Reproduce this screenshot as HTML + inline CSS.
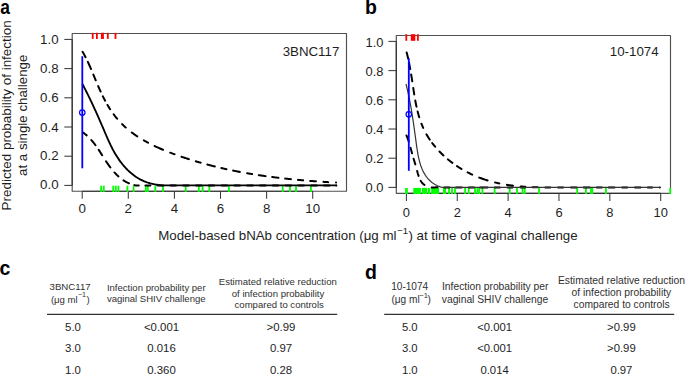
<!DOCTYPE html><html><head><meta charset="utf-8"><style>html,body{margin:0;padding:0;background:#fff;}svg{display:block;}text{font-family:"Liberation Sans",sans-serif;fill:#1e1e1e;} text.b{fill:#000;} text.h{fill:#303030;}</style></head><body>
<svg width="685" height="374" viewBox="0 0 685 374">
<rect width="685" height="374" fill="#fff"/>
<rect x="72.2" y="33.5" width="274.3" height="157.7" fill="none" stroke="#505050" stroke-width="1.15" stroke-linejoin="round"/>
<line x1="72.2" y1="185.4" x2="72.2" y2="39.400000000000006" stroke="#303030" stroke-width="1.15"/>
<line x1="64.3" y1="185.40" x2="72.2" y2="185.40" stroke="#383838" stroke-width="1.05"/>
<text x="58.6" y="188.90" font-size="13.3" text-anchor="end">0.0</text>
<line x1="64.3" y1="156.20" x2="72.2" y2="156.20" stroke="#383838" stroke-width="1.05"/>
<text x="58.6" y="160.20" font-size="13.3" text-anchor="end">0.2</text>
<line x1="64.3" y1="127.00" x2="72.2" y2="127.00" stroke="#383838" stroke-width="1.05"/>
<text x="58.6" y="131.50" font-size="13.3" text-anchor="end">0.4</text>
<line x1="64.3" y1="97.80" x2="72.2" y2="97.80" stroke="#383838" stroke-width="1.05"/>
<text x="58.6" y="102.40" font-size="13.3" text-anchor="end">0.6</text>
<line x1="64.3" y1="68.60" x2="72.2" y2="68.60" stroke="#383838" stroke-width="1.05"/>
<text x="58.6" y="73.30" font-size="13.3" text-anchor="end">0.8</text>
<line x1="64.3" y1="39.40" x2="72.2" y2="39.40" stroke="#383838" stroke-width="1.05"/>
<text x="58.6" y="44.10" font-size="13.3" text-anchor="end">1.0</text>
<line x1="82.2" y1="191.2" x2="312.7" y2="191.2" stroke="#303030" stroke-width="1.15"/>
<line x1="82.20" y1="191.2" x2="82.20" y2="198.79999999999998" stroke="#383838" stroke-width="1.05"/>
<text x="82.20" y="213.3" font-size="13.3" text-anchor="middle">0</text>
<line x1="128.30" y1="191.2" x2="128.30" y2="198.79999999999998" stroke="#383838" stroke-width="1.05"/>
<text x="128.30" y="213.3" font-size="13.3" text-anchor="middle">2</text>
<line x1="174.40" y1="191.2" x2="174.40" y2="198.79999999999998" stroke="#383838" stroke-width="1.05"/>
<text x="174.40" y="213.3" font-size="13.3" text-anchor="middle">4</text>
<line x1="220.50" y1="191.2" x2="220.50" y2="198.79999999999998" stroke="#383838" stroke-width="1.05"/>
<text x="220.50" y="213.3" font-size="13.3" text-anchor="middle">6</text>
<line x1="266.60" y1="191.2" x2="266.60" y2="198.79999999999998" stroke="#383838" stroke-width="1.05"/>
<text x="266.60" y="213.3" font-size="13.3" text-anchor="middle">8</text>
<line x1="312.70" y1="191.2" x2="312.70" y2="198.79999999999998" stroke="#383838" stroke-width="1.05"/>
<text x="312.70" y="213.3" font-size="13.3" text-anchor="middle">10</text>
<line x1="101.1" y1="185.7" x2="101.1" y2="192.0" stroke="#00ff00" stroke-width="1.8"/>
<line x1="103.8" y1="185.7" x2="103.8" y2="192.0" stroke="#00ff00" stroke-width="1.8"/>
<line x1="113.2" y1="185.7" x2="113.2" y2="192.0" stroke="#00ff00" stroke-width="1.8"/>
<line x1="115.8" y1="185.7" x2="115.8" y2="192.0" stroke="#00ff00" stroke-width="1.8"/>
<line x1="118.4" y1="185.7" x2="118.4" y2="192.0" stroke="#00ff00" stroke-width="1.8"/>
<line x1="127.4" y1="185.7" x2="127.4" y2="192.0" stroke="#00ff00" stroke-width="1.8"/>
<line x1="133.6" y1="185.7" x2="133.6" y2="192.0" stroke="#00ff00" stroke-width="1.8"/>
<line x1="145.8" y1="185.7" x2="145.8" y2="192.0" stroke="#00ff00" stroke-width="1.8"/>
<line x1="147.8" y1="185.7" x2="147.8" y2="192.0" stroke="#00ff00" stroke-width="1.8"/>
<line x1="155.3" y1="185.7" x2="155.3" y2="192.0" stroke="#00ff00" stroke-width="1.8"/>
<line x1="163" y1="185.7" x2="163" y2="192.0" stroke="#00ff00" stroke-width="1.8"/>
<line x1="185.7" y1="185.7" x2="185.7" y2="192.0" stroke="#00ff00" stroke-width="1.8"/>
<line x1="198.8" y1="185.7" x2="198.8" y2="192.0" stroke="#00ff00" stroke-width="1.8"/>
<line x1="202.6" y1="185.7" x2="202.6" y2="192.0" stroke="#00ff00" stroke-width="1.8"/>
<line x1="209.3" y1="185.7" x2="209.3" y2="192.0" stroke="#00ff00" stroke-width="1.8"/>
<line x1="228.9" y1="185.7" x2="228.9" y2="192.0" stroke="#00ff00" stroke-width="1.8"/>
<line x1="282.7" y1="185.7" x2="282.7" y2="192.0" stroke="#00ff00" stroke-width="1.8"/>
<line x1="290" y1="185.7" x2="290" y2="192.0" stroke="#00ff00" stroke-width="1.8"/>
<line x1="296" y1="185.7" x2="296" y2="192.0" stroke="#00ff00" stroke-width="1.8"/>
<line x1="310.9" y1="185.7" x2="310.9" y2="192.0" stroke="#00ff00" stroke-width="1.8"/>
<line x1="92.7" y1="32.8" x2="92.7" y2="38.9" stroke="#ff0000" stroke-width="1.8"/>
<line x1="96.9" y1="32.8" x2="96.9" y2="38.9" stroke="#ff0000" stroke-width="1.8"/>
<line x1="101.8" y1="32.8" x2="101.8" y2="38.9" stroke="#ff0000" stroke-width="1.8"/>
<line x1="103.0" y1="32.8" x2="103.0" y2="38.9" stroke="#ff0000" stroke-width="1.8"/>
<line x1="107.8" y1="32.8" x2="107.8" y2="38.9" stroke="#ff0000" stroke-width="1.8"/>
<line x1="115.5" y1="32.8" x2="115.5" y2="38.9" stroke="#ff0000" stroke-width="1.8"/>
<path d="M82.59,51.80 L82.93,52.39 L83.27,52.99 L83.61,53.58 L83.94,54.18 L84.27,54.78 L84.59,55.38 L84.91,55.99 L85.23,56.60 L85.55,57.20 M87.83,61.86 L88.10,62.45 L88.38,63.04 L88.65,63.63 L88.92,64.22 L89.18,64.81 L89.45,65.40 L89.71,66.00 L89.97,66.59 L90.23,67.19 L90.49,67.78 L90.75,68.38 L91.01,68.98 M93.38,74.63 L93.64,75.26 L93.90,75.89 L94.16,76.51 L94.42,77.14 L94.68,77.77 L94.94,78.40 L95.20,79.02 L95.46,79.65 L95.72,80.28 M98.19,86.16 L98.45,86.76 L98.71,87.36 L98.98,87.96 L99.24,88.56 L99.50,89.16 L99.77,89.76 L100.04,90.35 L100.31,90.95 L100.58,91.54 M102.84,96.29 L103.12,96.84 L103.40,97.40 L103.68,97.96 L103.96,98.51 L104.25,99.06 L104.54,99.62 L104.83,100.17 L105.12,100.72 M107.50,104.96 L107.82,105.51 L108.15,106.05 L108.47,106.59 L108.80,107.13 L109.14,107.67 L109.47,108.21 L109.81,108.74 L110.15,109.27 M113.69,114.40 L114.10,114.94 L114.51,115.48 L114.92,116.02 L115.34,116.56 L115.76,117.09 L116.19,117.62 L116.62,118.14 L117.05,118.67 M122.11,124.15 L122.55,124.59 L123.00,125.02 L123.45,125.45 L123.90,125.88 L124.36,126.31 L124.82,126.73 L125.28,127.15 L125.75,127.56 M131.80,132.49 L132.33,132.89 L132.87,133.29 L133.41,133.68 L133.96,134.07 L134.50,134.46 L135.05,134.84 L135.60,135.22 L136.15,135.60 L136.71,135.97 L137.26,136.34 M143.86,140.41 L144.45,140.75 L145.04,141.08 L145.63,141.41 L146.23,141.74 L146.82,142.06 L147.42,142.39 L148.02,142.71 M154.60,146.02 L155.19,146.30 L155.79,146.58 L156.38,146.86 L156.98,147.13 L157.57,147.41 L158.17,147.68 L158.77,147.94 L159.37,148.21 L159.97,148.47 L160.57,148.74 L161.17,149.00 L161.77,149.26 L162.37,149.51 L162.98,149.77 M170.23,152.68 L170.85,152.91 L171.47,153.14 L172.08,153.38 L172.70,153.61 L173.32,153.84 L173.94,154.07 L174.56,154.29 M181.45,156.72 L182.06,156.93 L182.68,157.14 L183.29,157.34 L183.91,157.55 L184.52,157.75 L185.14,157.96 L185.76,158.16 L186.37,158.36 L186.99,158.56 L187.61,158.76 L188.23,158.96 L188.85,159.16 M195.86,161.32 L196.45,161.50 L197.05,161.68 L197.65,161.85 L198.25,162.03 L198.84,162.20 L199.44,162.37 L200.04,162.54 L200.64,162.72 M207.37,164.57 L207.99,164.73 L208.61,164.90 L209.23,165.06 L209.85,165.22 L210.47,165.38 L211.09,165.54 L211.72,165.70 L212.34,165.86 L212.96,166.02 L213.58,166.18 L214.21,166.33 L214.83,166.49 M221.37,168.05 L222.00,168.20 L222.64,168.34 L223.27,168.48 L223.90,168.63 L224.53,168.77 L225.16,168.91 L225.79,169.05 L226.42,169.19 M233.08,170.59 L233.76,170.73 L234.45,170.87 L235.13,171.00 L235.81,171.14 L236.50,171.28 L237.18,171.41 L237.86,171.54 L238.55,171.67 L239.23,171.80 L239.92,171.93 M247.09,173.23 L247.71,173.34 L248.34,173.45 L248.97,173.56 L249.60,173.67 L250.23,173.77 L250.86,173.88 L251.48,173.98 L252.11,174.08 M258.79,175.14 L259.47,175.24 L260.15,175.34 L260.83,175.45 L261.52,175.55 L262.20,175.65 L262.88,175.74 L263.56,175.84 L264.24,175.94 L264.93,176.04 L265.61,176.13 M272.19,177.02 L272.88,177.10 L273.57,177.19 L274.26,177.28 L274.95,177.37 L275.64,177.45 L276.33,177.54 L277.03,177.62 L277.72,177.70 L278.41,177.79 M285.19,178.56 L285.83,178.63 L286.46,178.70 L287.10,178.77 L287.73,178.83 L288.37,178.90 L289.00,178.97 L289.64,179.03 L290.27,179.10 L290.91,179.16 M298.00,179.85 L298.63,179.91 L299.27,179.97 L299.91,180.03 L300.55,180.08 L301.19,180.14 L301.83,180.20 L302.47,180.25 L303.10,180.31 M310.20,180.90 L310.83,180.95 L311.46,181.00 L312.10,181.04 L312.73,181.09 L313.37,181.14 L314.00,181.19 L314.63,181.24 L315.27,181.28 L315.90,181.33 M323.50,181.86 L324.17,181.91 L324.84,181.95 L325.51,181.99 L326.19,182.04 L326.86,182.08 L327.53,182.12 L328.20,182.17 M336.00,182.61 L336.10,182.61" fill="none" stroke="#000" stroke-width="2" stroke-linecap="round"/>
<path d="M83.21,132.69 L83.72,133.05 L84.22,133.42 L84.72,133.80 L85.21,134.18 L85.70,134.58 L86.18,134.98 L86.65,135.38 M91.37,140.09 L91.81,140.59 L92.24,141.10 L92.66,141.60 L93.08,142.12 L93.50,142.63 L93.91,143.15 L94.32,143.68 L94.72,144.21 L95.12,144.74 L95.51,145.27 M98.66,149.79 L99.01,150.33 L99.37,150.87 L99.72,151.41 L100.07,151.96 L100.42,152.50 L100.77,153.04 L101.12,153.59 L101.47,154.14 L101.82,154.68 L102.16,155.23 M106.05,161.28 L106.43,161.86 L106.81,162.43 L107.20,163.00 L107.58,163.57 L107.97,164.14 L108.37,164.71 L108.77,165.27 L109.17,165.83 L109.57,166.39 L109.98,166.94 L110.39,167.50 M114.47,172.44 L114.89,172.90 L115.32,173.36 L115.75,173.82 L116.19,174.26 L116.63,174.71 L117.08,175.15 L117.53,175.58 L117.99,176.01 L118.45,176.43 M123.53,180.36 L124.10,180.73 L124.67,181.09 L125.26,181.44 L125.84,181.77 L126.44,182.10 L127.04,182.41 L127.65,182.72 L128.26,183.01 L128.88,183.28 M134.37,185.14 L134.99,185.29 L135.61,185.40 L136.25,185.40 L136.89,185.40 L137.53,185.40 L138.16,185.40 L138.80,185.40 M145.40,185.40 L146.03,185.40 L146.65,185.40 L147.28,185.40 L147.90,185.40 L148.53,185.40 L149.15,185.40 L149.78,185.39 L150.40,185.40 M157.60,185.40 L158.26,185.40 L158.91,185.40 L159.57,185.40 L160.22,185.40 L160.88,185.40 L161.53,185.40 L162.19,185.40 L162.84,185.40 L163.50,185.40 M170.40,185.40 L171.09,185.40 L171.78,185.40 L172.46,185.40 L173.15,185.40 L173.84,185.40 L174.53,185.40 L175.21,185.40 L175.90,185.40 M183.20,185.40 L183.89,185.40 L184.58,185.40 L185.26,185.40 L185.95,185.40 L186.64,185.40 L187.33,185.40 L188.01,185.40 L188.70,185.40 M196.00,185.40 L196.69,185.40 L197.38,185.40 L198.06,185.40 L198.75,185.40 L199.44,185.40 L200.13,185.40 L200.81,185.40 L201.50,185.40 M208.80,185.40 L209.49,185.40 L210.18,185.40 L210.86,185.40 L211.55,185.40 L212.24,185.40 L212.93,185.40 L213.61,185.40 L214.30,185.40 M221.60,185.40 L222.29,185.40 L222.98,185.40 L223.66,185.40 L224.35,185.40 L225.04,185.40 L225.73,185.40 L226.41,185.40 L227.10,185.40 M234.40,185.40 L235.09,185.40 L235.78,185.40 L236.46,185.40 L237.15,185.40 L237.84,185.40 L238.53,185.40 L239.21,185.40 L239.90,185.40 M247.20,185.40 L247.89,185.40 L248.58,185.40 L249.26,185.40 L249.95,185.40 L250.64,185.40 L251.33,185.40 L252.01,185.40 L252.70,185.40 M260.00,185.40 L260.69,185.40 L261.38,185.40 L262.06,185.40 L262.75,185.40 L263.44,185.40 L264.13,185.40 L264.81,185.40 L265.50,185.40 M272.80,185.40 L273.49,185.40 L274.18,185.40 L274.86,185.40 L275.55,185.40 L276.24,185.40 L276.93,185.40 L277.61,185.40 L278.30,185.40 M285.60,185.40 L286.29,185.40 L286.98,185.40 L287.66,185.40 L288.35,185.40 L289.04,185.40 L289.73,185.40 L290.41,185.40 L291.10,185.40 M298.40,185.40 L299.09,185.40 L299.78,185.40 L300.46,185.40 L301.15,185.40 L301.84,185.40 L302.53,185.40 L303.21,185.40 L303.90,185.40 M311.20,185.40 L311.89,185.40 L312.58,185.40 L313.26,185.40 L313.95,185.40 L314.64,185.40 L315.33,185.40 L316.01,185.40 L316.70,185.40 M324.00,185.40 L324.69,185.40 L325.38,185.40 L326.06,185.40 L326.75,185.40 L327.44,185.40 L328.13,185.40 L328.81,185.40 L329.50,185.40 M336.25,185.40 L336.35,185.40" fill="none" stroke="#000" stroke-width="2" stroke-linecap="round"/>
<path d="M82.40,84.00 L82.93,85.03 L83.47,86.05 L84.01,87.07 L84.55,88.10 L85.08,89.14 L85.62,90.18 L86.15,91.22 L86.68,92.28 L87.21,93.33 L87.74,94.39 L88.27,95.46 L88.79,96.53 L89.31,97.60 L89.84,98.68 L90.36,99.76 L90.87,100.84 L91.39,101.93 L91.91,103.02 L92.42,104.12 L92.93,105.21 L93.44,106.31 L93.95,107.42 L94.46,108.52 L94.97,109.63 L95.47,110.74 L95.97,111.85 L96.47,112.96 L96.97,114.07 L97.47,115.19 L97.97,116.30 L98.46,117.42 L98.95,118.53 L99.44,119.65 L99.93,120.77 L100.42,121.89 L100.91,123.01 L101.39,124.12 L101.87,125.24 L102.36,126.36 L102.83,127.47 L103.31,128.58 L103.79,129.70 L104.26,130.81 L104.74,131.92 L105.21,133.03 L105.68,134.13 L106.15,135.24 L106.63,136.34 L107.11,137.44 L107.59,138.53 L108.07,139.63 L108.56,140.72 L109.06,141.81 L109.56,142.89 L110.07,143.97 L110.58,145.05 L111.10,146.12 L111.63,147.19 L112.17,148.25 L112.72,149.31 L113.29,150.36 L113.86,151.41 L114.44,152.46 L115.04,153.50 L115.65,154.53 L116.28,155.56 L116.92,156.58 L117.58,157.59 L118.25,158.60 L118.94,159.61 L119.64,160.60 L120.36,161.58 L121.10,162.56 L121.85,163.52 L122.61,164.47 L123.39,165.41 L124.19,166.33 L125.00,167.23 L125.82,168.13 L126.65,169.00 L127.50,169.86 L128.37,170.69 L129.24,171.51 L130.13,172.31 L131.03,173.09 L131.95,173.84 L132.87,174.58 L133.81,175.29 L134.76,175.98 L135.72,176.65 L136.69,177.29 L137.68,177.91 L138.67,178.51 L139.68,179.08 L140.69,179.62 L141.72,180.13 L142.76,180.62 L143.80,181.09 L144.86,181.52 L145.92,181.93 L147.00,182.32 L148.08,182.68 L149.17,183.01 L150.28,183.33 L151.38,183.62 L152.50,183.89 L153.63,184.14 L154.76,184.37 L155.90,184.58 L157.05,184.77 L158.20,184.94 L159.36,185.09 L160.53,185.23 L161.70,185.36 L162.88,185.40 L164.07,185.40 L165.26,185.40 L166.46,185.40 L167.66,185.40 L168.87,185.40 L170.08,185.40 L171.30,185.40 L172.52,185.40 L173.75,185.40 L174.98,185.40 L176.21,185.40 L177.45,185.40 L178.69,185.40 L179.93,185.40 L181.18,185.40 L182.43,185.40 L183.68,185.40 L184.94,185.40 L186.19,185.40 L187.45,185.40 L188.71,185.40 L189.97,185.38 L190.03,185.37 L336.80,185.40" fill="none" stroke="#000" stroke-width="1.85"/>
<line x1="82.3" y1="56.2" x2="82.3" y2="168.3" stroke="#0000ff" stroke-width="1.8"/>
<circle cx="82.3" cy="112.6" r="2.75" fill="none" stroke="#0000ff" stroke-width="1.2"/>
<text x="339.3" y="56" font-size="13.3" text-anchor="end">3BNC117</text>
<rect x="396.3" y="35.5" width="274.2" height="157.8" fill="none" stroke="#505050" stroke-width="1.15" stroke-linejoin="round"/>
<line x1="396.3" y1="187.4" x2="396.3" y2="41.400000000000006" stroke="#303030" stroke-width="1.15"/>
<line x1="388.40000000000003" y1="187.40" x2="396.3" y2="187.40" stroke="#383838" stroke-width="1.05"/>
<text x="383.4" y="192.10" font-size="12.9" text-anchor="end">0.0</text>
<line x1="388.40000000000003" y1="158.20" x2="396.3" y2="158.20" stroke="#383838" stroke-width="1.05"/>
<text x="383.4" y="162.90" font-size="12.9" text-anchor="end">0.2</text>
<line x1="388.40000000000003" y1="129.00" x2="396.3" y2="129.00" stroke="#383838" stroke-width="1.05"/>
<text x="383.4" y="133.70" font-size="12.9" text-anchor="end">0.4</text>
<line x1="388.40000000000003" y1="99.80" x2="396.3" y2="99.80" stroke="#383838" stroke-width="1.05"/>
<text x="383.4" y="104.80" font-size="12.9" text-anchor="end">0.6</text>
<line x1="388.40000000000003" y1="70.60" x2="396.3" y2="70.60" stroke="#383838" stroke-width="1.05"/>
<text x="383.4" y="76.20" font-size="12.9" text-anchor="end">0.8</text>
<line x1="388.40000000000003" y1="41.40" x2="396.3" y2="41.40" stroke="#383838" stroke-width="1.05"/>
<text x="383.4" y="46.90" font-size="12.9" text-anchor="end">1.0</text>
<line x1="406.4" y1="193.3" x2="660.7" y2="193.3" stroke="#303030" stroke-width="1.15"/>
<line x1="406.40" y1="193.3" x2="406.40" y2="200.9" stroke="#383838" stroke-width="1.05"/>
<text x="406.40" y="216.9" font-size="12.9" text-anchor="middle">0</text>
<line x1="457.26" y1="193.3" x2="457.26" y2="200.9" stroke="#383838" stroke-width="1.05"/>
<text x="457.26" y="216.9" font-size="12.9" text-anchor="middle">2</text>
<line x1="508.12" y1="193.3" x2="508.12" y2="200.9" stroke="#383838" stroke-width="1.05"/>
<text x="508.12" y="216.9" font-size="12.9" text-anchor="middle">4</text>
<line x1="558.98" y1="193.3" x2="558.98" y2="200.9" stroke="#383838" stroke-width="1.05"/>
<text x="558.98" y="216.9" font-size="12.9" text-anchor="middle">6</text>
<line x1="609.84" y1="193.3" x2="609.84" y2="200.9" stroke="#383838" stroke-width="1.05"/>
<text x="609.84" y="216.9" font-size="12.9" text-anchor="middle">8</text>
<line x1="660.70" y1="193.3" x2="660.70" y2="200.9" stroke="#383838" stroke-width="1.05"/>
<text x="660.70" y="216.9" font-size="12.9" text-anchor="middle">10</text>
<line x1="406.0" y1="187.9" x2="406.0" y2="194.0" stroke="#00ff00" stroke-width="1.8"/>
<line x1="406.9" y1="187.9" x2="406.9" y2="194.0" stroke="#00ff00" stroke-width="1.8"/>
<rect x="413.3" y="187.9" width="7.60" height="6.10" fill="#00ff00"/>
<rect x="421.9" y="187.9" width="5.10" height="6.10" fill="#00ff00"/>
<rect x="427.7" y="187.9" width="2.50" height="6.10" fill="#00ff00"/>
<rect x="431.2" y="187.9" width="7.90" height="6.10" fill="#00ff00"/>
<rect x="443" y="187.9" width="3.10" height="6.10" fill="#00ff00"/>
<line x1="449" y1="187.9" x2="449" y2="194.0" stroke="#00ff00" stroke-width="1.8"/>
<line x1="452" y1="187.9" x2="452" y2="194.0" stroke="#00ff00" stroke-width="1.8"/>
<line x1="455" y1="187.9" x2="455" y2="194.0" stroke="#00ff00" stroke-width="1.8"/>
<line x1="465.1" y1="187.9" x2="465.1" y2="194.0" stroke="#00ff00" stroke-width="1.8"/>
<line x1="468.7" y1="187.9" x2="468.7" y2="194.0" stroke="#00ff00" stroke-width="1.8"/>
<line x1="475" y1="187.9" x2="475" y2="194.0" stroke="#00ff00" stroke-width="1.8"/>
<line x1="477.5" y1="187.9" x2="477.5" y2="194.0" stroke="#00ff00" stroke-width="1.8"/>
<line x1="479.2" y1="187.9" x2="479.2" y2="194.0" stroke="#00ff00" stroke-width="1.8"/>
<line x1="482.4" y1="187.9" x2="482.4" y2="194.0" stroke="#00ff00" stroke-width="1.8"/>
<line x1="494.6" y1="187.9" x2="494.6" y2="194.0" stroke="#00ff00" stroke-width="1.8"/>
<line x1="509.7" y1="187.9" x2="509.7" y2="194.0" stroke="#00ff00" stroke-width="1.8"/>
<line x1="517" y1="187.9" x2="517" y2="194.0" stroke="#00ff00" stroke-width="1.8"/>
<line x1="522.5" y1="187.9" x2="522.5" y2="194.0" stroke="#00ff00" stroke-width="1.8"/>
<line x1="524.7" y1="187.9" x2="524.7" y2="194.0" stroke="#00ff00" stroke-width="1.8"/>
<line x1="539" y1="187.9" x2="539" y2="194.0" stroke="#00ff00" stroke-width="1.8"/>
<line x1="577.2" y1="187.9" x2="577.2" y2="194.0" stroke="#00ff00" stroke-width="1.8"/>
<line x1="585.9" y1="187.9" x2="585.9" y2="194.0" stroke="#00ff00" stroke-width="1.8"/>
<line x1="591" y1="187.9" x2="591" y2="194.0" stroke="#00ff00" stroke-width="1.8"/>
<line x1="592.3" y1="187.9" x2="592.3" y2="194.0" stroke="#00ff00" stroke-width="1.8"/>
<line x1="605.9" y1="187.9" x2="605.9" y2="194.0" stroke="#00ff00" stroke-width="1.8"/>
<line x1="670.2" y1="187.9" x2="670.2" y2="194.0" stroke="#00ff00" stroke-width="1.8"/>
<line x1="406.3" y1="34.2" x2="406.3" y2="40.8" stroke="#ff0000" stroke-width="1.8"/>
<rect x="410.8" y="34.2" width="4.50" height="6.60" fill="#ff0000"/>
<line x1="417.9" y1="34.2" x2="417.9" y2="40.8" stroke="#ff0000" stroke-width="1.8"/>
<path d="M406.67,52.56 L406.84,53.17 L407.00,53.78 L407.16,54.40 L407.31,55.01 L407.47,55.62 L407.61,56.24 L407.76,56.85 L407.91,57.47 L408.05,58.08 L408.19,58.70 M409.00,62.56 L409.13,63.21 L409.26,63.86 L409.38,64.52 L409.51,65.17 L409.63,65.83 L409.75,66.48 L409.87,67.14 L409.99,67.80 L410.11,68.45 L410.23,69.11 M411.16,74.58 L411.28,75.25 L411.39,75.93 L411.50,76.61 L411.61,77.28 L411.72,77.96 L411.82,78.64 L411.93,79.31 L412.04,79.99 L412.14,80.67 L412.25,81.34 M413.25,87.96 L413.35,88.61 L413.44,89.25 L413.54,89.90 L413.64,90.54 L413.74,91.19 L413.84,91.83 L413.94,92.48 L414.04,93.12 L414.14,93.77 L414.24,94.41 M415.28,100.52 L415.40,101.20 L415.53,101.89 L415.66,102.57 L415.79,103.25 L415.92,103.93 L416.06,104.61 L416.20,105.29 L416.34,105.97 L416.49,106.65 M417.64,111.58 L417.80,112.21 L417.97,112.83 L418.13,113.45 L418.30,114.08 L418.47,114.70 L418.65,115.32 L418.83,115.94 L419.01,116.55 L419.20,117.17 M421.46,123.70 L421.69,124.30 L421.93,124.90 L422.17,125.49 L422.42,126.09 L422.67,126.68 L422.92,127.27 L423.18,127.86 M426.49,134.38 L426.83,134.97 L427.17,135.56 L427.52,136.14 L427.88,136.72 L428.24,137.29 L428.61,137.87 L428.98,138.44 L429.35,139.01 L429.73,139.57 M432.20,143.00 L432.61,143.54 L433.02,144.08 L433.44,144.61 L433.86,145.14 L434.29,145.66 L434.72,146.19 L435.15,146.70 M439.49,151.52 L439.97,152.03 L440.46,152.52 L440.96,153.02 L441.45,153.51 L441.95,154.00 L442.45,154.48 L442.96,154.97 L443.47,155.44 M447.97,159.40 L448.45,159.80 L448.93,160.20 L449.42,160.59 L449.91,160.98 L450.40,161.37 L450.90,161.75 L451.39,162.13 L451.89,162.51 L452.39,162.89 M457.03,166.15 L457.57,166.51 L458.12,166.86 L458.67,167.22 L459.22,167.57 L459.77,167.91 L460.33,168.25 L460.88,168.59 L461.44,168.93 M467.59,172.35 L468.16,172.65 L468.73,172.93 L469.30,173.22 L469.88,173.50 L470.45,173.78 L471.03,174.06 L471.61,174.33 L472.19,174.60 M479.23,177.58 L479.86,177.82 L480.50,178.06 L481.13,178.29 L481.77,178.52 L482.40,178.75 L483.04,178.97 L483.68,179.19 L484.32,179.41 L484.96,179.62 L485.61,179.83 L486.25,180.04 L486.90,180.24 L487.54,180.44 M495.07,182.48 L495.68,182.62 L496.28,182.76 L496.89,182.90 L497.50,183.04 L498.10,183.17 L498.71,183.30 L499.32,183.43 M506.89,184.81 L507.57,184.91 L508.24,185.02 L508.92,185.12 L509.60,185.21 L510.28,185.31 L510.96,185.40 L511.64,185.49 L512.33,185.58 L513.01,185.66 M520.70,186.46 L521.35,186.52 L522.01,186.57 L522.67,186.62 L523.33,186.67 L523.99,186.72 L524.64,186.77 L525.30,186.81 M532.50,187.19 L533.12,187.21 L533.75,187.24 L534.37,187.26 L535.00,187.28 L535.62,187.30 L536.25,187.32 L536.88,187.34 L537.50,187.35 M545.30,187.40 L545.92,187.40 L546.55,187.40 L547.17,187.40 L547.80,187.40 L548.42,187.40 L549.05,187.40 L549.67,187.40 L550.30,187.40 M558.10,187.40 L558.73,187.39 L559.35,187.38 L559.98,187.38 L560.60,187.40 L561.22,187.40 L561.85,187.40 L562.47,187.40 L563.10,187.40 M571.00,187.40 L571.67,187.40 L572.35,187.40 L573.02,187.40 L573.70,187.40 L574.38,187.40 L575.05,187.40 L575.72,187.40 L576.40,187.40 M583.70,187.40 L584.36,187.40 L585.01,187.40 L585.67,187.40 L586.32,187.40 L586.98,187.40 L587.63,187.40 L588.29,187.40 L588.94,187.40 L589.60,187.40 M596.80,187.40 L597.42,187.40 L598.05,187.40 L598.67,187.40 L599.30,187.40 L599.92,187.40 L600.55,187.40 L601.17,187.40 L601.80,187.40 M608.70,187.40 L609.34,187.40 L609.99,187.40 L610.63,187.40 L611.28,187.40 L611.92,187.40 L612.57,187.40 L613.21,187.40 L613.86,187.40 L614.50,187.40 M622.20,187.40 L622.83,187.40 L623.45,187.40 L624.08,187.40 L624.70,187.40 L625.33,187.40 L625.95,187.40 L626.58,187.40 L627.20,187.40 M635.00,187.40 L635.62,187.40 L636.24,187.40 L636.87,187.40 L637.49,187.40 L638.11,187.40 L638.73,187.40 L639.36,187.40 L639.98,187.40 L640.60,187.40 M647.80,187.40 L648.43,187.40 L649.06,187.40 L649.69,187.40 L650.31,187.40 L650.94,187.40 L651.57,187.40 L652.20,187.40 M659.70,187.40 L659.80,187.40" fill="none" stroke="#000" stroke-width="2" stroke-linecap="round"/>
<path d="M406.51,135.51 L406.75,136.09 L406.99,136.68 L407.22,137.27 L407.45,137.85 L407.67,138.44 L407.89,139.04 L408.10,139.63 L408.30,140.23 L408.50,140.83 L408.70,141.43 M410.56,147.84 L410.73,148.44 L410.89,149.05 L411.05,149.66 L411.21,150.27 L411.37,150.88 L411.54,151.49 L411.70,152.10 L411.87,152.70 L412.03,153.31 M413.59,158.67 L413.78,159.30 L413.97,159.93 L414.16,160.57 L414.36,161.20 L414.55,161.83 L414.74,162.47 L414.93,163.10 L415.13,163.73 L415.32,164.37 M417.15,170.92 L417.32,171.54 L417.49,172.17 L417.65,172.80 L417.83,173.42 L418.00,174.05 L418.19,174.67 L418.38,175.29 L418.57,175.91 M420.69,180.73 L421.02,181.26 L421.37,181.77 L421.74,182.28 L422.13,182.76 L422.54,183.23 L422.97,183.68 L423.42,184.11 L423.89,184.52 L424.38,184.90 M431.70,187.40 L432.36,187.40 L433.01,187.40 L433.67,187.40 L434.32,187.40 L434.98,187.40 L435.63,187.37 L436.29,187.35 L436.94,187.33 L437.60,187.31 M444.40,187.40 L445.02,187.40 L445.65,187.40 L446.27,187.40 L446.90,187.40 L447.52,187.40 L448.15,187.40 L448.77,187.40 L449.40,187.40 M456.20,187.40 L456.89,187.40 L457.57,187.40 L458.26,187.40 L458.95,187.40 L459.64,187.40 L460.32,187.40 L461.01,187.40 L461.70,187.40 M468.90,187.40 L469.52,187.40 L470.15,187.40 L470.77,187.40 L471.40,187.40 L472.02,187.40 L472.65,187.40 L473.27,187.40 L473.90,187.40 M480.30,187.40 L480.95,187.40 L481.61,187.40 L482.26,187.40 L482.92,187.40 L483.57,187.40 L484.23,187.40 L484.88,187.40 L485.54,187.40 L486.19,187.40 L486.85,187.40 L487.50,187.40 M494.80,187.40 L495.43,187.40 L496.05,187.40 L496.68,187.40 L497.30,187.40 L497.93,187.40 L498.55,187.40 L499.18,187.40 L499.80,187.40 M507.50,187.40 L508.12,187.40 L508.75,187.40 L509.38,187.40 L510.00,187.40 L510.62,187.40 L511.25,187.40 L511.88,187.40 L512.50,187.40 M520.60,187.40 L521.26,187.40 L521.91,187.40 L522.57,187.40 L523.23,187.40 L523.89,187.40 L524.54,187.40 L525.20,187.40" fill="none" stroke="#000" stroke-width="2" stroke-linecap="round"/>
<path d="M406.00,84.00 L406.29,85.19 L406.58,86.39 L406.87,87.58 L407.15,88.77 L407.43,89.96 L407.70,91.14 L407.97,92.33 L408.23,93.51 L408.48,94.69 L408.73,95.86 L408.98,97.04 L409.22,98.21 L409.45,99.38 L409.68,100.56 L409.91,101.73 L410.13,102.89 L410.35,104.06 L410.57,105.23 L410.78,106.40 L410.98,107.57 L411.19,108.73 L411.39,109.90 L411.58,111.07 L411.78,112.23 L411.97,113.40 L412.16,114.57 L412.34,115.74 L412.52,116.91 L412.71,118.08 L412.88,119.25 L413.06,120.42 L413.24,121.59 L413.41,122.77 L413.58,123.94 L413.75,125.12 L413.92,126.30 L414.09,127.48 L414.25,128.67 L414.42,129.86 L414.58,131.05 L414.75,132.24 L414.91,133.43 L415.08,134.63 L415.24,135.83 L415.41,137.03 L415.57,138.24 L415.74,139.45 L415.90,140.66 L416.07,141.88 L416.23,143.10 L416.40,144.33 L416.57,145.56 L416.75,146.79 L416.92,148.02 L417.11,149.25 L417.30,150.48 L417.49,151.71 L417.70,152.93 L417.92,154.15 L418.15,155.37 L418.39,156.58 L418.64,157.79 L418.91,158.98 L419.20,160.17 L419.50,161.35 L419.82,162.52 L420.16,163.68 L420.52,164.82 L420.90,165.95 L421.31,167.07 L421.74,168.17 L422.19,169.25 L422.67,170.32 L423.18,171.37 L423.71,172.40 L424.27,173.41 L424.86,174.39 L425.48,175.36 L426.13,176.29 L426.80,177.20 L427.51,178.09 L428.24,178.94 L429.00,179.76 L429.79,180.55 L430.61,181.31 L431.45,182.03 L432.33,182.72 L433.23,183.37 L434.16,183.98 L435.12,184.55 L436.11,185.08 L437.13,185.57 L438.16,186.03 L439.23,186.44 L440.31,186.82 L441.42,187.16 L442.55,187.40 L443.70,187.40 L444.87,187.40 L446.06,187.40 L447.27,187.40 L448.49,187.40 L449.73,187.40 L450.99,187.40 L452.26,187.40 L453.55,187.40 L454.84,187.40 L456.15,187.40 L457.48,187.40 L458.81,187.40 L460.03,187.38 L660.70,187.40" fill="none" stroke="#333" stroke-width="1.2"/>
<line x1="408.8" y1="58.2" x2="408.8" y2="170.8" stroke="#0000ff" stroke-width="1.8"/>
<circle cx="408.8" cy="114.3" r="2.75" fill="none" stroke="#0000ff" stroke-width="1.2"/>
<text x="658.6" y="56" font-size="13.3" text-anchor="end">10-1074</text>
<text transform="translate(0.3,14.3) scale(0.87,1)" font-size="20" font-weight="bold" class="b">a</text>
<text x="365" y="14.3" font-size="19.5" font-weight="bold" class="b">b</text>
<text x="-0.4" y="274.6" font-size="19.5" font-weight="bold" class="b">c</text>
<text x="365" y="278.8" font-size="19.5" font-weight="bold" class="b">d</text>
<text transform="translate(10.7,115.4) rotate(-90)" font-size="13.42" text-anchor="middle">Predicted probability of infection</text>
<text transform="translate(26.7,115.3) rotate(-90)" font-size="13.3" text-anchor="middle">at a single challenge</text>
<text y="239.8" font-size="13.3"><tspan x="158.2">Model-based bNAb concentration (μg ml</tspan><tspan x="397.2" y="233.8" font-size="9.6">−1</tspan><tspan x="408.4" y="239.8">) at time of vaginal challenge</tspan></text>
<text class="h" x="70.1" y="289.7" font-size="9.65" text-anchor="middle">3BNC117</text>
<text class="h" x="156.25" y="290.8" font-size="9.55" text-anchor="middle">Infection probability per</text>
<text class="h" x="156.25" y="302.3" font-size="9.55" text-anchor="middle">vaginal SHIV challenge</text>
<text class="h" x="277.8" y="285.1" font-size="9.57" text-anchor="middle">Estimated relative reduction</text>
<text class="h" x="278.0" y="296.9" font-size="9.57" text-anchor="middle">of infection probability</text>
<text class="h" x="279.2" y="308.0" font-size="9.57" text-anchor="middle">compared to controls</text>
<text class="h" y="302.5" font-size="9.6"><tspan x="50.9">(μg ml</tspan><tspan x="77.9" y="297.0" font-size="7.2">−1</tspan><tspan x="86.6" y="302.5">)</tspan></text>
<line x1="47.0" y1="314.4" x2="337.2" y2="314.4" stroke="#333" stroke-width="1.3"/>
<text class="d" x="73.0" y="330.6" font-size="11.4" text-anchor="middle">5.0</text>
<text class="d" x="161.5" y="330.6" font-size="11.4" text-anchor="middle">&lt;0.001</text>
<text class="d" x="281.0" y="330.6" font-size="11.4" text-anchor="middle">&gt;0.99</text>
<text class="d" x="73.0" y="352.2" font-size="11.4" text-anchor="middle">3.0</text>
<text class="d" x="161.5" y="352.2" font-size="11.4" text-anchor="middle">0.016</text>
<text class="d" x="281.0" y="352.2" font-size="11.4" text-anchor="middle">0.97</text>
<text class="d" x="73.0" y="373.9" font-size="11.4" text-anchor="middle">1.0</text>
<text class="d" x="161.5" y="373.9" font-size="11.4" text-anchor="middle">0.360</text>
<text class="d" x="281.0" y="373.9" font-size="11.4" text-anchor="middle">0.28</text>
<text class="h" x="409.7" y="290.0" font-size="10.1" text-anchor="middle">10-1074</text>
<text class="h" x="495.2" y="290.3" font-size="10.3" text-anchor="middle">Infection probability per</text>
<text class="h" x="495.0" y="302.6" font-size="10.3" text-anchor="middle">vaginal SHIV challenge</text>
<text class="h" x="621.5" y="284.0" font-size="10.3" text-anchor="middle">Estimated relative reduction</text>
<text class="h" x="621.4" y="296.3" font-size="10.3" text-anchor="middle">of infection probability</text>
<text class="h" x="621.6" y="308.3" font-size="10.3" text-anchor="middle">compared to controls</text>
<text class="h" y="303.0" font-size="10.1"><tspan x="391.4">(μg ml</tspan><tspan x="419.3" y="297.6" font-size="7.6">−1</tspan><tspan x="427.6" y="303.0">)</tspan></text>
<line x1="384.2" y1="314.4" x2="674.2" y2="314.4" stroke="#333" stroke-width="1.3"/>
<text class="d" x="409.8" y="330.6" font-size="11.3" text-anchor="middle">5.0</text>
<text class="d" x="494.6" y="330.6" font-size="11.3" text-anchor="middle">&lt;0.001</text>
<text class="d" x="621.4" y="330.6" font-size="11.3" text-anchor="middle">&gt;0.99</text>
<text class="d" x="409.8" y="352.2" font-size="11.3" text-anchor="middle">3.0</text>
<text class="d" x="494.6" y="352.2" font-size="11.3" text-anchor="middle">&lt;0.001</text>
<text class="d" x="621.4" y="352.2" font-size="11.3" text-anchor="middle">&gt;0.99</text>
<text class="d" x="409.8" y="373.9" font-size="11.3" text-anchor="middle">1.0</text>
<text class="d" x="494.6" y="373.9" font-size="11.3" text-anchor="middle">0.014</text>
<text class="d" x="621.4" y="373.9" font-size="11.3" text-anchor="middle">0.97</text>
</svg></body></html>
